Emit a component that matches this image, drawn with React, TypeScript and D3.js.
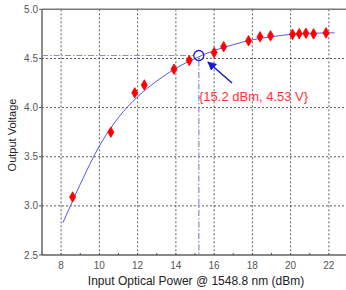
import { useEffect, useRef } from 'react'
import * as d3 from 'd3'

// measured points (dBm, V)
const powerDbm = [8.6, 10.6, 11.85, 12.35, 13.9, 14.7, 16.0, 16.5, 17.8, 18.4, 18.95, 20.1, 20.45, 20.8, 21.2, 21.85]
const voltage = [3.09, 3.75, 4.15, 4.23, 4.39, 4.48, 4.56, 4.62, 4.68, 4.72, 4.73, 4.745, 4.752, 4.756, 4.75, 4.76]

// fitted curve
const fitX = [8.1, 9, 10, 11, 12, 13, 14, 15, 16, 17, 18, 19, 20, 21, 22, 22.3]
const fitY = [2.83, 3.22, 3.61, 3.9, 4.11, 4.27, 4.4, 4.5, 4.58, 4.64, 4.69, 4.72, 4.745, 4.755, 4.76, 4.76]

const xTicks = [8, 10, 12, 14, 16, 18, 20, 22]
const yTicks = [2.5, 3.0, 3.5, 4.0, 4.5, 5.0]
const marker = { x: 15.2, y: 4.53, label: '{15.2 dBm, 4.53 V}' }

const App = () => {
	const svgRef = useRef(null)

	useEffect(() => {
		const W = 346
		const H = 290
		const svg = d3.select(svgRef.current)
		svg.selectAll('*').remove()
		svg.attr('width', W).attr('height', H)

		const x = d3.scaleLinear().domain([7, 23]).range([42, 348])
		const y = d3.scaleLinear().domain([2.5, 5]).range([255, 9.3])
		const font = 'Arial, "Liberation Sans", sans-serif'

		svg.append('rect').attr('width', W).attr('height', H).attr('fill', 'white')

		// grid
		const grid = svg.append('g').attr('stroke', '#333').attr('stroke-width', 0.8).attr('stroke-dasharray', '2,2')
		grid
			.selectAll('line.v')
			.data(xTicks)
			.enter()
			.append('line')
			.attr('x1', (d) => x(d))
			.attr('x2', (d) => x(d))
			.attr('y1', y(5))
			.attr('y2', y(2.5))
		grid
			.selectAll('line.h')
			.data(yTicks.slice(1, -1))
			.enter()
			.append('line')
			.attr('x1', x(7))
			.attr('x2', W)
			.attr('y1', (d) => y(d))
			.attr('y2', (d) => y(d))

		// frame
		svg.append('line').attr('x1', x(7)).attr('x2', W).attr('y1', y(5)).attr('y2', y(5)).attr('stroke', '#777').attr('stroke-width', 1.5)
		svg.append('line').attr('x1', x(7)).attr('x2', W).attr('y1', y(2.5)).attr('y2', y(2.5)).attr('stroke', '#888').attr('stroke-width', 2)
		svg.append('line').attr('x1', x(7)).attr('x2', x(7)).attr('y1', y(5)).attr('y2', y(2.5)).attr('stroke', '#666').attr('stroke-width', 1.5)

		// ticks
		const xMinor = d3.range(7, 23, 1)
		svg
			.selectAll('line.xt')
			.data(xMinor)
			.enter()
			.append('line')
			.attr('x1', (d) => x(d))
			.attr('x2', (d) => x(d))
			.attr('y1', y(2.5))
			.attr('y2', y(2.5) - 2)
			.attr('stroke', '#555')
		svg
			.selectAll('line.yt')
			.data(yTicks)
			.enter()
			.append('line')
			.attr('x1', x(7) - 3)
			.attr('x2', x(7))
			.attr('y1', (d) => y(d))
			.attr('y2', (d) => y(d))
			.attr('stroke', '#555')

		svg
			.selectAll('text.xl')
			.data(xTicks)
			.enter()
			.append('text')
			.attr('x', (d) => x(d))
			.attr('y', 269)
			.attr('text-anchor', 'middle')
			.attr('font-family', font)
			.attr('font-size', 10)
			.attr('fill', '#555')
			.text((d) => d)
		svg
			.selectAll('text.yl')
			.data(yTicks)
			.enter()
			.append('text')
			.attr('x', 38)
			.attr('y', (d) => y(d) + 3.5)
			.attr('text-anchor', 'end')
			.attr('font-family', font)
			.attr('font-size', 10)
			.attr('fill', '#555')
			.text((d) => d.toFixed(1))

		// axis titles
		svg
			.append('text')
			.attr('x', 196)
			.attr('y', 285)
			.attr('text-anchor', 'middle')
			.attr('font-family', font)
			.attr('font-size', 12)
			.attr('fill', '#222')
			.text('Input Optical Power @ 1548.8 nm (dBm)')
		svg
			.append('text')
			.attr('transform', 'translate(16,135) rotate(-90)')
			.attr('text-anchor', 'middle')
			.attr('font-family', font)
			.attr('font-size', 11)
			.attr('fill', '#222')
			.text('Output Voltage')

		// guide lines to marker
		const guide = svg.append('g').attr('stroke', '#8888dd').attr('stroke-width', 1.2).attr('stroke-dasharray', '6,2,1.5,2')
		guide.append('line').attr('x1', x(7)).attr('x2', x(marker.x) - 5).attr('y1', y(marker.y)).attr('y2', y(marker.y))
		guide.append('line').attr('x1', x(marker.x)).attr('x2', x(marker.x)).attr('y1', y(marker.y) + 5).attr('y2', y(2.5))

		// fit curve
		const fit = fitX.map((v, i) => [v, fitY[i]])
		const line = d3
			.line()
			.x((d) => x(d[0]))
			.y((d) => y(d[1]))
			.curve(d3.curveMonotoneX)
		svg.append('path').datum(fit).attr('d', line).attr('fill', 'none').attr('stroke', '#5555ee').attr('stroke-width', 1)

		// data points
		const pts = powerDbm.map((v, i) => [v, voltage[i]])
		const diamond = d3.symbol().type(d3.symbolDiamond).size(32)
		svg
			.selectAll('path.pt')
			.data(pts)
			.enter()
			.append('path')
			.attr('d', diamond)
			.attr('transform', (d) => `translate(${x(d[0])},${y(d[1])})`)
			.attr('fill', '#ff0000')
			.attr('stroke', '#ff0000')
			.attr('stroke-width', 0.8)
			.attr('stroke-linejoin', 'round')

		// marker circle
		svg
			.append('circle')
			.attr('cx', x(marker.x))
			.attr('cy', y(marker.y))
			.attr('r', 5)
			.attr('fill', 'none')
			.attr('stroke', '#1a1aee')
			.attr('stroke-width', 1.3)

		// arrow
		svg
			.append('defs')
			.append('marker')
			.attr('id', 'arr')
			.attr('viewBox', '0 0 10 10')
			.attr('refX', 9)
			.attr('refY', 5)
			.attr('markerWidth', 9)
			.attr('markerHeight', 9)
			.attr('orient', 'auto')
			.attr('markerUnits', 'userSpaceOnUse')
			.append('path')
			.attr('d', 'M0,0 L10,5 L0,10 Z')
			.attr('fill', '#1a1acc')
		svg
			.append('line')
			.attr('x1', 232)
			.attr('y1', 83)
			.attr('x2', 208)
			.attr('y2', 62)
			.attr('stroke', '#1a1acc')
			.attr('stroke-width', 1.5)
			.attr('marker-end', 'url(#arr)')

		svg
			.append('text')
			.attr('x', 199)
			.attr('y', 101)
			.attr('font-family', font)
			.attr('font-size', 13)
			.attr('fill', '#ff3333')
			.text(marker.label)
	}, [])

	return <svg ref={svgRef} style={{ position: 'absolute', left: 0, top: 0 }}></svg>
}

export default App
